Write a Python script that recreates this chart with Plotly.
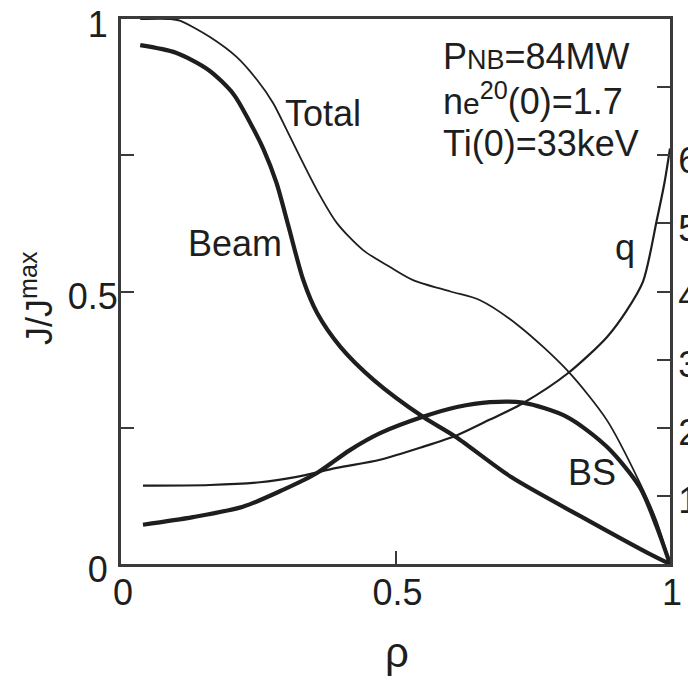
import plotly.graph_objects as go

# ---- data ----
rho_beam = [0.035, 0.10, 0.16, 0.205, 0.235, 0.26, 0.283, 0.305, 0.332, 0.357, 0.40, 0.46, 0.55, 0.61, 0.71, 0.84, 0.96, 1.0]
j_beam = [0.952, 0.938, 0.906, 0.862, 0.810, 0.760, 0.700, 0.620, 0.521, 0.461, 0.398, 0.338, 0.270, 0.233, 0.160, 0.086, 0.020, 0.0]

rho_total = [0.035, 0.09, 0.107, 0.162, 0.211, 0.248, 0.277, 0.302, 0.326, 0.357, 0.393, 0.441, 0.490, 0.532, 0.60, 0.654, 0.727, 0.812, 0.885, 0.945, 0.975, 1.0]
j_total = [1.0, 1.0, 0.997, 0.967, 0.930, 0.888, 0.846, 0.796, 0.747, 0.686, 0.626, 0.576, 0.545, 0.521, 0.500, 0.484, 0.435, 0.356, 0.264, 0.149, 0.080, 0.0]

rho_bs = [0.040, 0.131, 0.222, 0.295, 0.357, 0.417, 0.472, 0.550, 0.612, 0.672, 0.732, 0.812, 0.885, 0.945, 0.976, 1.0]
j_bs = [0.072, 0.086, 0.105, 0.136, 0.167, 0.209, 0.240, 0.270, 0.288, 0.297, 0.296, 0.270, 0.215, 0.141, 0.068, 0.0]

rho_q = [0.040, 0.162, 0.253, 0.320, 0.393, 0.472, 0.550, 0.612, 0.672, 0.732, 0.814, 0.885, 0.921, 0.951, 0.976, 0.990, 1.0]
q_vals = [1.15, 1.16, 1.20, 1.28, 1.41, 1.53, 1.72, 1.89, 2.12, 2.36, 2.80, 3.33, 3.72, 4.15, 5.05, 5.60, 6.10]

x_tickvals = [0, 0.5, 1]
x_ticktext = ["0", "0.5", "1"]
y_tickvals = [0, 0.25, 0.5, 0.75, 1]
y_ticktext = ["0\u00a0", "", "0.5", "", "1\u00a0"]
q_tickvals = [1, 2, 3, 4, 5, 6, 7]
q_ticktext = ["1", "2", "3", "4", "5", "6", ""]

# ---- styling ----
INK = "#1e1e1e"
FRAME = "#3a3a3a"
FONT = "Liberation Sans, Arial, sans-serif"
FS = 36

# plot area in pixels
L, R, T, B = 121, 670, 19, 564
W, H = 688, 689


def fx(px):
    return (px - L) / (R - L)


def fy(py):
    return (B - py) / (B - T)


fig = go.Figure()
fig.add_trace(go.Scatter(x=rho_total, y=j_total, mode="lines",
                         line=dict(color=INK, width=1.8, shape="spline", smoothing=0.8),
                         showlegend=False))
fig.add_trace(go.Scatter(x=rho_beam, y=j_beam, mode="lines",
                         line=dict(color=INK, width=4.2, shape="spline", smoothing=0.8),
                         showlegend=False))
fig.add_trace(go.Scatter(x=rho_bs, y=j_bs, mode="lines",
                         line=dict(color=INK, width=4.2, shape="spline", smoothing=0.8),
                         showlegend=False))
fig.add_trace(go.Scatter(x=rho_q, y=q_vals, mode="lines", yaxis="y2",
                         line=dict(color=INK, width=2.2, shape="spline", smoothing=0.8),
                         showlegend=False))

axis_common = dict(showgrid=False, zeroline=False, showline=True, linecolor=FRAME,
                   linewidth=3, ticks="inside", ticklen=13, tickwidth=2, tickcolor=FRAME,
                   automargin=False, ticklabeloverflow="allow",
                   tickfont=dict(family=FONT, size=FS, color=INK))

fig.update_layout(
    width=W, height=H,
    margin=dict(l=L, r=W - R, t=T, b=H - B, autoexpand=False),
    paper_bgcolor="white", plot_bgcolor="white",
    xaxis=dict(range=[0, 1], tickmode="array", tickvals=x_tickvals, ticktext=x_ticktext,
               mirror=True, ticklabelstandoff=-5, ticklabelshift=2, **axis_common),
    yaxis=dict(range=[0, 1], tickmode="array", tickvals=y_tickvals, ticktext=y_ticktext,
               mirror=True, ticklabelstandoff=-7, ticklabelshift=5, **axis_common),
    yaxis2=dict(range=[0, 8], overlaying="y", side="right", tickmode="array",
                tickvals=q_tickvals, ticktext=q_ticktext, ticklabelstandoff=-2,
                ticklabelshift=5, **axis_common),
)

ann_font = dict(family=FONT, size=FS, color=INK)
annotations = [
    dict(text="Total", x=fx(323), y=fy(114), xanchor="center", yanchor="middle"),
    dict(text="Beam", x=fx(235), y=fy(243), xanchor="center", yanchor="middle"),
    dict(text="q", x=fx(625), y=fy(248), xanchor="center", yanchor="middle"),
    dict(text="BS", x=fx(592), y=fy(473), xanchor="center", yanchor="middle"),
    dict(text="P<span style='font-size:27px'>NB</span>=84MW", x=fx(441), y=fy(79),
         xanchor="left", yanchor="bottom"),
    dict(text="n<span style='font-size:30px'>e</span><sup>20</sup>(0)=1.7", x=fx(441), y=fy(124),
         xanchor="left", yanchor="bottom"),
    dict(text="Ti(0)=33keV", x=fx(441), y=fy(166), xanchor="left", yanchor="bottom"),
    dict(text="ρ", x=fx(397), y=fy(652), xanchor="center", yanchor="middle",
         font=dict(family=FONT, size=42, color=INK)),
    dict(text="J/J<sup>max</sup>", x=fx(37), y=fy(298), xanchor="center", yanchor="middle",
         textangle=-90),
]
for a in annotations:
    a.setdefault("font", ann_font)
    fig.add_annotation(xref="paper", yref="paper", showarrow=False, **a)

fig.write_html("out.html")
